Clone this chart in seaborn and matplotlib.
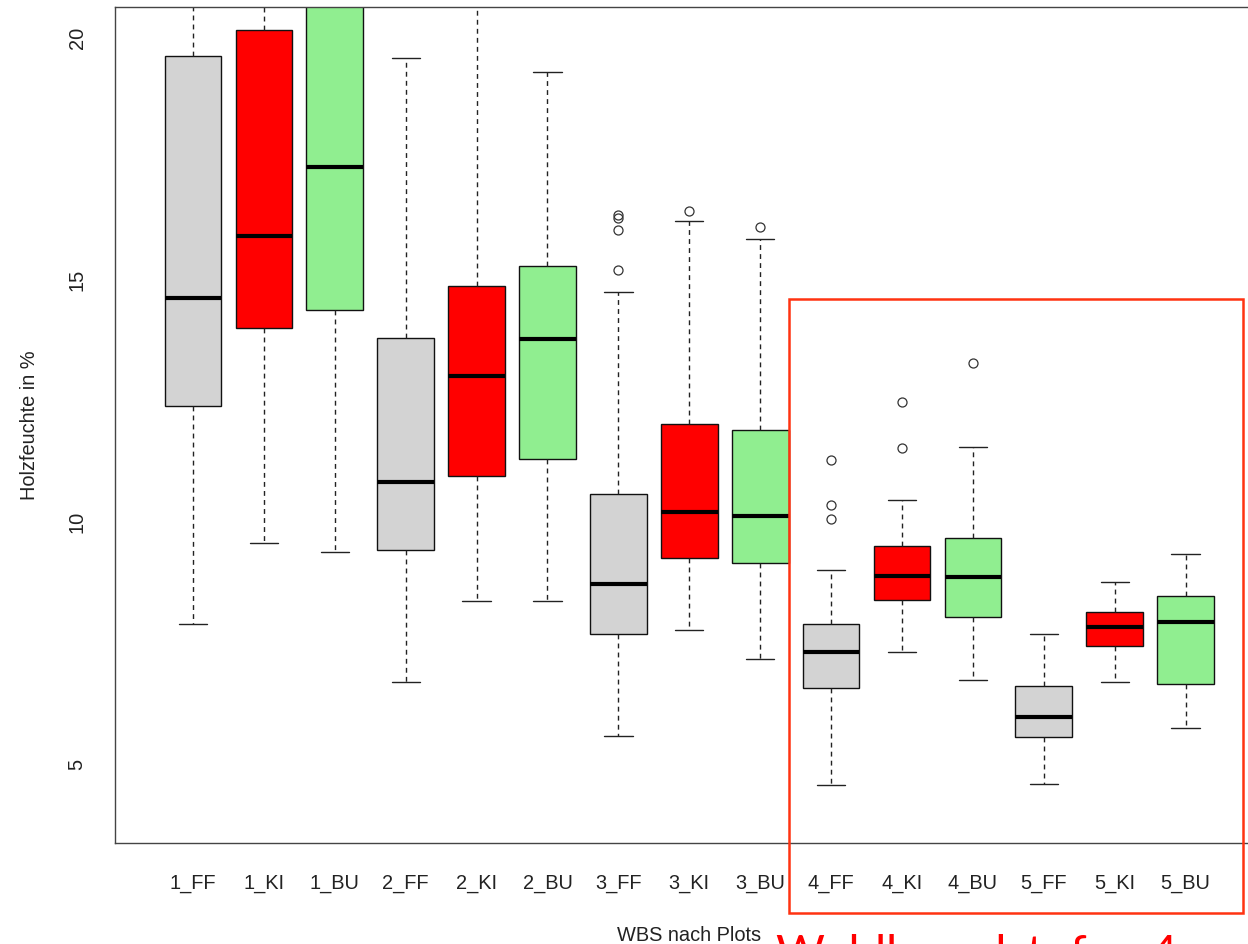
import matplotlib
matplotlib.use('Agg')
import matplotlib.pyplot as plt
import matplotlib.patches as patches
import seaborn as sns

# Gruppen (Waldbrandstufe _ Baumart)
gruppen = ['1_FF', '1_KI', '1_BU', '2_FF', '2_KI', '2_BU', '3_FF', '3_KI', '3_BU',
           '4_FF', '4_KI', '4_BU', '5_FF', '5_KI', '5_BU']

# Kennwerte je Box (Werte ueber 20.6 geschaetzt)
whisker_unten = [7.89, 9.57, 9.38, 6.69, 8.37, 8.37, 5.58, 7.77, 7.17, 4.57, 7.31, 6.74, 4.59, 6.69, 5.74]
q1 = [12.40, 14.01, 14.38, 9.42, 10.95, 11.30, 7.69, 9.26, 9.15, 6.57, 8.39, 8.04, 5.56, 7.44, 6.65]
median = [14.63, 15.91, 17.33, 10.83, 13.02, 13.78, 8.72, 10.21, 10.12, 7.31, 8.88, 8.86, 5.97, 7.83, 7.93]
q3 = [19.63, 20.17, 21.5, 13.80, 14.88, 15.29, 10.58, 12.02, 11.90, 7.89, 9.50, 9.67, 6.61, 8.14, 8.47]
whisker_oben = [24.5, 25.0, 27.0, 19.59, 22.0, 19.30, 14.75, 16.22, 15.85, 9.01, 10.45, 11.55, 7.69, 8.76, 9.34]
ausreisser = [[], [], [], [], [], [],
              [16.34, 16.28, 16.03, 15.21], [16.43], [16.10],
              [11.28, 10.35, 10.06], [12.48, 11.53], [13.29],
              [], [], []]

farben = ['#D3D3D3', '#FF0000', '#90EE90']  # FF, KI, BU

sns.set_theme(style='white')
plt.rcParams['font.family'] = ['Liberation Sans', 'DejaVu Sans']

fig = plt.figure(figsize=(12.48, 9.44), dpi=100)
ax = fig.add_axes([115 / 1248, 1 - 843 / 944, (1263.6 - 115) / 1248, (843 - 7) / 944])

stats = []
for i, g in enumerate(gruppen):
    stats.append(dict(label=g, whislo=whisker_unten[i], q1=q1[i], med=median[i],
                      q3=q3[i], whishi=whisker_oben[i], fliers=ausreisser[i]))

bp = ax.bxp(stats, positions=range(1, len(gruppen) + 1), widths=0.8, capwidths=0.4,
            patch_artist=True, showfliers=True,
            boxprops=dict(edgecolor='#111111', linewidth=1.0),
            whiskerprops=dict(color='#222222', linewidth=1.0, linestyle=(0, (3.5, 3))),
            capprops=dict(color='#222222', linewidth=1.0),
            medianprops=dict(color='black', linewidth=3, solid_capstyle='butt'),
            flierprops=dict(marker='o', markerfacecolor='none', markeredgecolor='#333333',
                            markersize=6.5, markeredgewidth=0.9))
for i, box in enumerate(bp['boxes']):
    box.set_facecolor(farben[i % 3])

ax.set_xlim(-0.1, 16.1)
ax.set_ylim(3.368, 20.64)
ax.set_xticks(range(1, len(gruppen) + 1))
ax.set_xticklabels(gruppen)
ax.set_yticks([5, 10, 15, 20])
ax.set_yticklabels(['5', '10', '15', '20'], rotation=90, va='center')
ax.tick_params(axis='x', length=9, width=1, color='#333333', pad=13, labelsize=14.4, labelcolor='#222222')
ax.tick_params(axis='y', length=9.4, width=1, color='#333333', pad=11, labelsize=14.4, labelcolor='#222222')
for s in ax.spines.values():
    s.set_color('#444444')
    s.set_linewidth(1.0)

fig.text(30 / 1248, 1 - 425 / 944, 'Holzfeuchte in %', rotation=90, ha='center', va='center',
         fontsize=14.4, color='#222222')
fig.text(689 / 1248, 1 - 941 / 944, 'WBS nach Plots', ha='center', va='baseline',
         fontsize=14.4, color='#222222')

# Markierung Waldbrandstufen 4 und 5 (im Original unten abgeschnitten)
rahmen = patches.Rectangle((789 / 1248, 1 - 913 / 944), (1243 - 789) / 1248, (913 - 299) / 944,
                           transform=fig.transFigure, fill=False, edgecolor='#FF3311',
                           linewidth=1.8, clip_on=False)
fig.patches.append(rahmen)
fig.text(776 / 1248, (944 - 968) / 944, 'Waldbrandstufen 4 und 5', ha='left', va='baseline',
         fontsize=34, color='#FF0000', family=['Lato', 'DejaVu Sans'])

fig.savefig('out.png', dpi=100)
